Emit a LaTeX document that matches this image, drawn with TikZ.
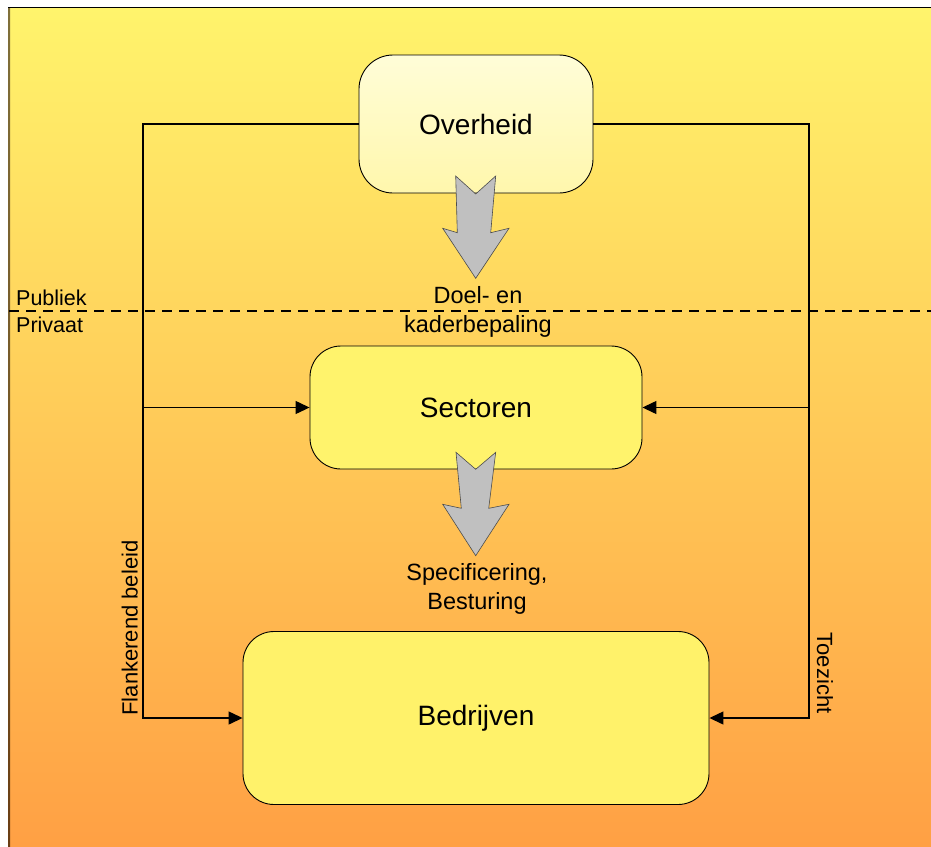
\documentclass[tikz,border=0pt]{standalone}
\usepackage{fontspec}
\setmainfont{Liberation Sans}
\usetikzlibrary{arrows.meta}
\definecolor{bgtop}{HTML}{FFF46C}
\definecolor{bgbot}{HTML}{FFA044}
\definecolor{edgetop}{HTML}{80703A}
\definecolor{edgebot}{HTML}{6A3E14}
\definecolor{ovtop}{HTML}{FFFDD8}
\definecolor{ovbot}{HTML}{FFF7AC}
\definecolor{secfill}{HTML}{FFF36C}
\definecolor{bedfill}{HTML}{FFF26A}
\definecolor{bigarrow}{HTML}{C0C0C0}
\tikzset{
  box/.style={draw=black, line width=0.9pt, rounded corners=31pt, align=center,
    font=\fontsize{28}{34}\selectfont},
  conn/.style={draw=black, line width=1.3pt},
  tip/.style={-{Triangle[length=14pt,width=13pt]}},
  lbl/.style={align=center, font=\fontsize{23.5}{29}\selectfont, inner sep=0pt},
  side/.style={font=\fontsize{21.5}{27}\selectfont, inner sep=0pt, anchor=base west},
  vert/.style={font=\fontsize{22}{26}\selectfont, inner sep=0pt, anchor=base},
  grey/.style={fill=bigarrow, draw=black!70, line width=0.6pt, line join=miter}
}
\begin{document}
\begin{tikzpicture}[x=1pt,y=-1pt]
\useasboundingbox (0,0) rectangle (931,846);
% background
\shade[top color=bgtop, bottom color=bgbot] (8,7) rectangle (931,846);
\shade[top color=edgetop, bottom color=edgebot] (8,7) rectangle (10,846);
\draw[black, line width=1.3pt] (8,7.5) -- (931,7.5);
% dashed public/private separator
\coordinate (dl) at (9,311);
\coordinate (dr) at (931,311);
\draw[black, line width=1.2pt, dash pattern=on 10pt off 7pt] (dl) -- (dr);
\node[side] (pub) at (16,305) {Publiek};
\node[side] (priv) at (16,332) {Privaat};
% boxes
\node[box, top color=ovtop, bottom color=ovbot, minimum width=234pt, minimum height=138pt, rounded corners=34pt] (ov) at (476,124) {Overheid};
\node[box, fill=secfill, minimum width=332pt, minimum height=123pt] (sec) at (476,407.5) {Sectoren};
\node[box, fill=bedfill, minimum width=466pt, minimum height=173pt] (bed) at (476,718) {Bedrijven};
% connectors
\coordinate (lt) at (143,124);
\coordinate (rt) at (809,124);
\draw[conn, tip] (ov.west) -- (lt) -- (lt |- bed.west) -- (bed.west);
\draw[conn, tip] (ov.east) -- (rt) -- (rt |- bed.east) -- (bed.east);
\draw[conn, tip] (lt |- sec.west) -- (sec.west);
\draw[conn, tip] (rt |- sec.east) -- (sec.east);
% big grey arrows
\draw[grey] (455.7,176) -- (475.7,194) -- (495.7,176) -- (490.7,232.7) -- (509,228.3)
  -- (475.7,278.3) -- (442.7,228.3) -- (457.3,232.7) -- cycle;
\draw[grey] (456,452.3) -- (475.7,469.3) -- (495.7,452.3) -- (488.7,508.3) -- (509,504.3)
  -- (475.7,555.7) -- (442.7,504.3) -- (461.3,508.3) -- cycle;
% labels
\node[lbl] (doel) at (478,312) {Doel- en\\kaderbepaling};
\node[lbl] (spec) at (477,589) {Specificering,\\Besturing};
\node[vert, rotate=90] (flank) at (137.5,628) {Flankerend beleid};
\node[vert, rotate=-90] (toez) at (817,673) {Toezicht};
\end{tikzpicture}
\end{document}
